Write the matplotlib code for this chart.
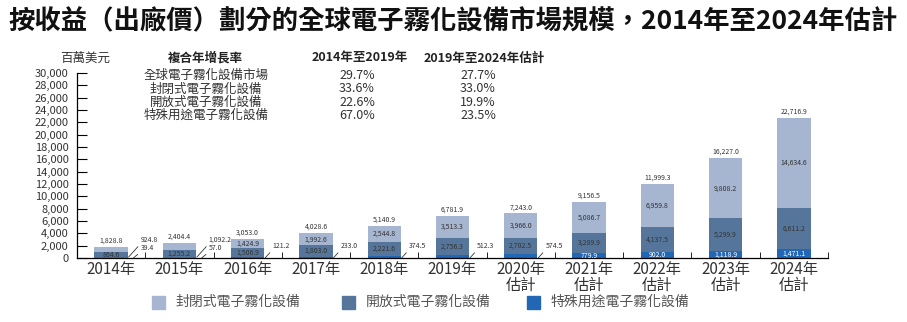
import numpy as np
import matplotlib
matplotlib.use('Agg')
import matplotlib.pyplot as plt
from matplotlib.patches import Rectangle

plt.rcParams['font.family'] = ['Noto Sans CJK TC', 'DejaVu Sans']

# data (百萬美元)
years = ['2014年', '2015年', '2016年', '2017年', '2018年', '2019年',
         '2020年\n估計', '2021年\n估計', '2022年\n估計', '2023年\n估計', '2024年\n估計']
closed = [924.8, 1092.2, 1424.9, 1992.6, 2544.8, 3513.3, 3966.0, 5086.7, 6959.8, 9808.2, 14634.6]
opened = [864.6, 1255.2, 1506.9, 1803.0, 2221.6, 2756.3, 2702.5, 3289.9, 4137.5, 5299.9, 6611.2]
special = [39.4, 57.0, 121.2, 233.0, 374.5, 512.3, 574.5, 779.9, 902.0, 1118.9, 1471.1]
totals = [1828.8, 2404.4, 3053.0, 4028.6, 5140.9, 6781.9, 7243.0, 9156.5, 11999.3, 16227.0, 22716.9]

series_names = ['封閉式電子霧化設備', '開放式電子霧化設備', '特殊用途電子霧化設備']
cagr_rows = ['全球電子霧化設備市場', '封閉式電子霧化設備', '開放式電子霧化設備', '特殊用途電子霧化設備']
cagr_1419 = ['29.7%', '33.6%', '22.6%', '67.0%']
cagr_1924 = ['27.7%', '33.0%', '19.9%', '23.5%']

c_closed = '#a6b5d0'
c_open = '#55769a'
c_special = '#2267b3'
txt = '#333333'

W, H = 907, 322
fig = plt.figure(figsize=(W / 100, H / 100), dpi=100)
ax = fig.add_axes([77 / W, 1 - 258 / H, (828 - 77) / W, (258 - 73) / H])

x = np.arange(len(years))
bw = 0.49
ax.bar(x, special, bw, color=c_special, zorder=2)
ax.bar(x, opened, bw, bottom=special, color=c_open, zorder=2)
ax.bar(x, closed, bw, bottom=np.add(special, opened), color=c_closed, zorder=2)

fs = 5
for i in range(len(years)):
    # total on top
    ax.text(x[i], totals[i] + 350, f'{totals[i]:,.1f}', ha='center', va='bottom',
            fontsize=fs, color=txt)
    # open segment always inside
    ax.text(x[i], special[i] + opened[i] / 2, f'{opened[i]:,.1f}', ha='center',
            va='center', fontsize=fs, color=txt)
    if i >= 2:
        ax.text(x[i], special[i] + opened[i] + closed[i] / 2, f'{closed[i]:,.1f}',
                ha='center', va='center', fontsize=fs, color=txt)
    if i >= 7:
        ax.text(x[i], special[i] / 2, f'{special[i]:,.1f}', ha='center',
                va='center', fontsize=fs, color='white')
    # callouts
    if i < 2:
        ax.annotate(f'{closed[i]:,.1f}', xy=(x[i] + bw / 2 + 0.01, 150),
                    xytext=(x[i] + 0.43, 2300), fontsize=fs, color=txt,
                    ha='left', va='bottom',
                    arrowprops=dict(arrowstyle='-', lw=0.6, color=txt,
                                    relpos=(0, 0), shrinkA=0, shrinkB=0))
        ax.annotate(f'{special[i]:,.1f}', xy=(x[i] + bw / 2 + 0.08, 0),
                    xytext=(x[i] + 0.43, 950), fontsize=fs, color=txt,
                    ha='left', va='bottom',
                    arrowprops=dict(arrowstyle='-', lw=0.6, color=txt,
                                    relpos=(0, 0), shrinkA=0, shrinkB=0))
    elif i < 7:
        ax.annotate(f'{special[i]:,.1f}', xy=(x[i] + bw / 2 + 0.01, 0),
                    xytext=(x[i] + 0.36, 1300), fontsize=fs, color=txt,
                    ha='left', va='bottom',
                    arrowprops=dict(arrowstyle='-', lw=0.6, color=txt,
                                    relpos=(0, 0), shrinkA=0, shrinkB=0))

ax.set_xlim(-0.5, len(years) - 0.5)
ax.set_ylim(0, 30000)
ax.set_yticks(np.arange(0, 30001, 2000))
ax.set_yticklabels([f'{v:,}' for v in range(0, 30001, 2000)], fontsize=8, color=txt)
ax.set_xticks(x)
ax.set_xticklabels(years, fontsize=11, color=txt, linespacing=0.95)
ax.set_xticks(np.arange(-0.5, len(years), 1), minor=True)
ax.tick_params(axis='x', which='major', length=0, pad=2)
ax.tick_params(axis='x', which='minor', direction='in', length=4, width=0.6)
ax.tick_params(axis='y', direction='in', length=7, width=0.8, pad=6)
for s in ['top', 'right']:
    ax.spines[s].set_visible(False)
for s in ['left', 'bottom']:
    ax.spines[s].set_linewidth(0.9)

# title and unit
fig.text(0.5, 1 - 22 / H, '按收益（出廠價）劃分的全球電子霧化設備市場規模，2014年至2024年估計',
         ha='center', va='center', fontsize=19, fontweight='bold', color='#111111')
fig.text(85 / W, 1 - 58 / H, '百萬美元', ha='center', va='center', fontsize=9, color=txt)

# CAGR table
fig.text(205 / W, 1 - 58 / H, '複合年增長率', ha='center', va='center', fontsize=9,
         fontweight='bold', color='#222222')
fig.text(360 / W, 1 - 58 / H, '2014年至2019年', ha='center', va='center', fontsize=9,
         fontweight='bold', color='#222222')
fig.text(484 / W, 1 - 58 / H, '2019年至2024年估計', ha='center', va='center', fontsize=9,
         fontweight='bold', color='#222222')
row_y = [75, 89, 102, 115]
for r, yy in enumerate(row_y):
    fig.text(206 / W, 1 - yy / H, cagr_rows[r], ha='center', va='center', fontsize=9, color=txt)
    fig.text(357 / W, 1 - yy / H, cagr_1419[r], ha='center', va='center', fontsize=9, color=txt)
    fig.text(478 / W, 1 - yy / H, cagr_1924[r], ha='center', va='center', fontsize=9, color=txt)

# legend
leg_x = [152, 342, 527]
for name, col, lx in zip(series_names, [c_closed, c_open, c_special], leg_x):
    fig.patches.append(Rectangle((lx / W, 1 - 309 / H), 13 / W, 13 / H,
                                 transform=fig.transFigure, color=col))
    fig.text((lx + 24) / W, 1 - 302 / H, name, ha='left', va='center', fontsize=10,
             color='#555555')

fig.savefig('out.png', dpi=100)
